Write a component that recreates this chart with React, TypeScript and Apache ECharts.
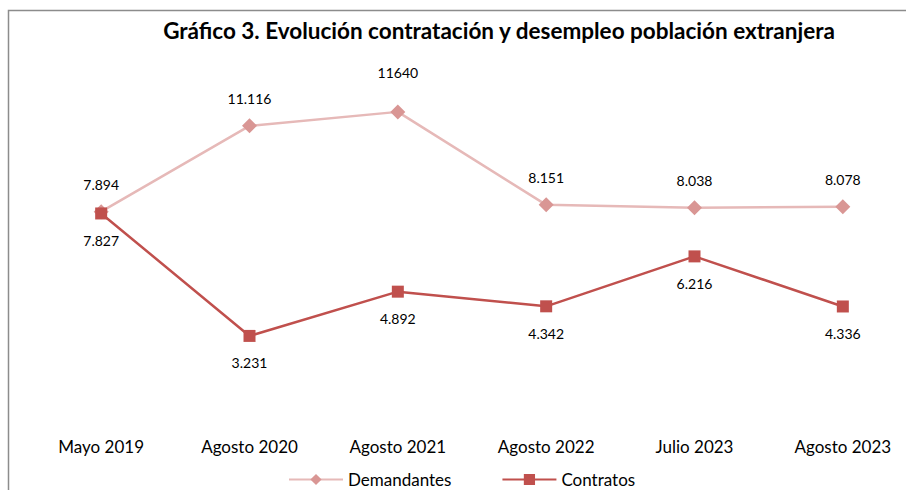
import React, { useEffect, useRef } from "react";
import * as echarts from "echarts";

const categories = ["Mayo 2019", "Agosto 2020", "Agosto 2021", "Agosto 2022", "Julio 2023", "Agosto 2023"];
const demandantes = [7894, 11116, 11640, 8151, 8038, 8078];
const demandantesLabels = ["7.894", "11.116", "11640", "8.151", "8.038", "8.078"];
const contratos = [7827, 3231, 4892, 4342, 6216, 4336];
const contratosLabels = ["7.827", "3.231", "4.892", "4.342", "6.216", "4.336"];
const titleText = "Gráfico 3. Evolución contratación y desempleo población extranjera";

export default function App() {
  const ref = useRef<HTMLDivElement>(null);
  useEffect(() => {
    if (!ref.current) return;
    const chart = echarts.init(ref.current, null, { renderer: "svg" });
    const font = "Lato, 'Open Sans', sans-serif";
    chart.setOption({
      animation: false,
      backgroundColor: "#ffffff",
      textStyle: { fontFamily: font },
      title: {
        text: titleText,
        left: 494,
        textAlign: "center",
        top: 14,
        textStyle: { fontFamily: font, fontSize: 22.5, fontWeight: "bold", color: "#000" },
      },
      graphic: [
        {
          type: "rect",
          shape: { x: 8.5, y: 10.5, width: 1000, height: 1000 },
          style: { fill: "none", stroke: "#8c8c8c", lineWidth: 1.5 },
          silent: true,
        },
      ],
      legend: {
        top: 466,
        left: 283,
        itemWidth: 54,
        itemHeight: 14,
        itemGap: 50,
        textStyle: { fontFamily: font, fontSize: 17, color: "#000" },
        data: ["Demandantes", "Contratos"],
      },
      grid: {
        left: 27,
        width: 890,
        top: 49,
        height: 373,
        containLabel: false,
        outerBoundsMode: "none",
      },
      xAxis: {
        type: "category",
        data: categories,
        boundaryGap: true,
        axisLine: { show: false },
        axisTick: { show: false },
        axisLabel: { fontFamily: font, fontSize: 17, color: "#000", margin: 16 },
      },
      yAxis: {
        type: "value",
        min: 0,
        max: 14000,
        show: false,
        splitLine: { show: false },
      },
      series: [
        {
          name: "Demandantes",
          type: "line",
          data: demandantes.map((v, i) =>
            i === 2 ? { value: v, label: { distance: 25 } } : v
          ),
          symbol: "diamond",
          symbolSize: 15,
          lineStyle: { color: "#E6B9B8", width: 2.5 },
          itemStyle: { color: "#D99694", borderWidth: 0 },
          label: {
            show: true,
            position: "top",
            distance: 13,
            fontFamily: font,
            fontSize: 14,
            color: "#000",
            formatter: (p: any) => demandantesLabels[p.dataIndex],
          },
          z: 2,
        },
        {
          name: "Contratos",
          type: "line",
          data: contratos,
          symbol: "rect",
          symbolSize: 12,
          lineStyle: { color: "#C0504D", width: 2.5 },
          itemStyle: { color: "#C0504D", borderWidth: 0 },
          label: {
            show: true,
            position: "bottom",
            distance: 14,
            fontFamily: font,
            fontSize: 14,
            color: "#000",
            formatter: (p: any) => contratosLabels[p.dataIndex],
          },
          z: 3,
        },
      ],
    });
    return () => chart.dispose();
  }, []);
  return (
    <div
      ref={ref}
      style={{ position: "fixed", left: 0, top: 0, width: 906, height: 490 }}
    />
  );
}
